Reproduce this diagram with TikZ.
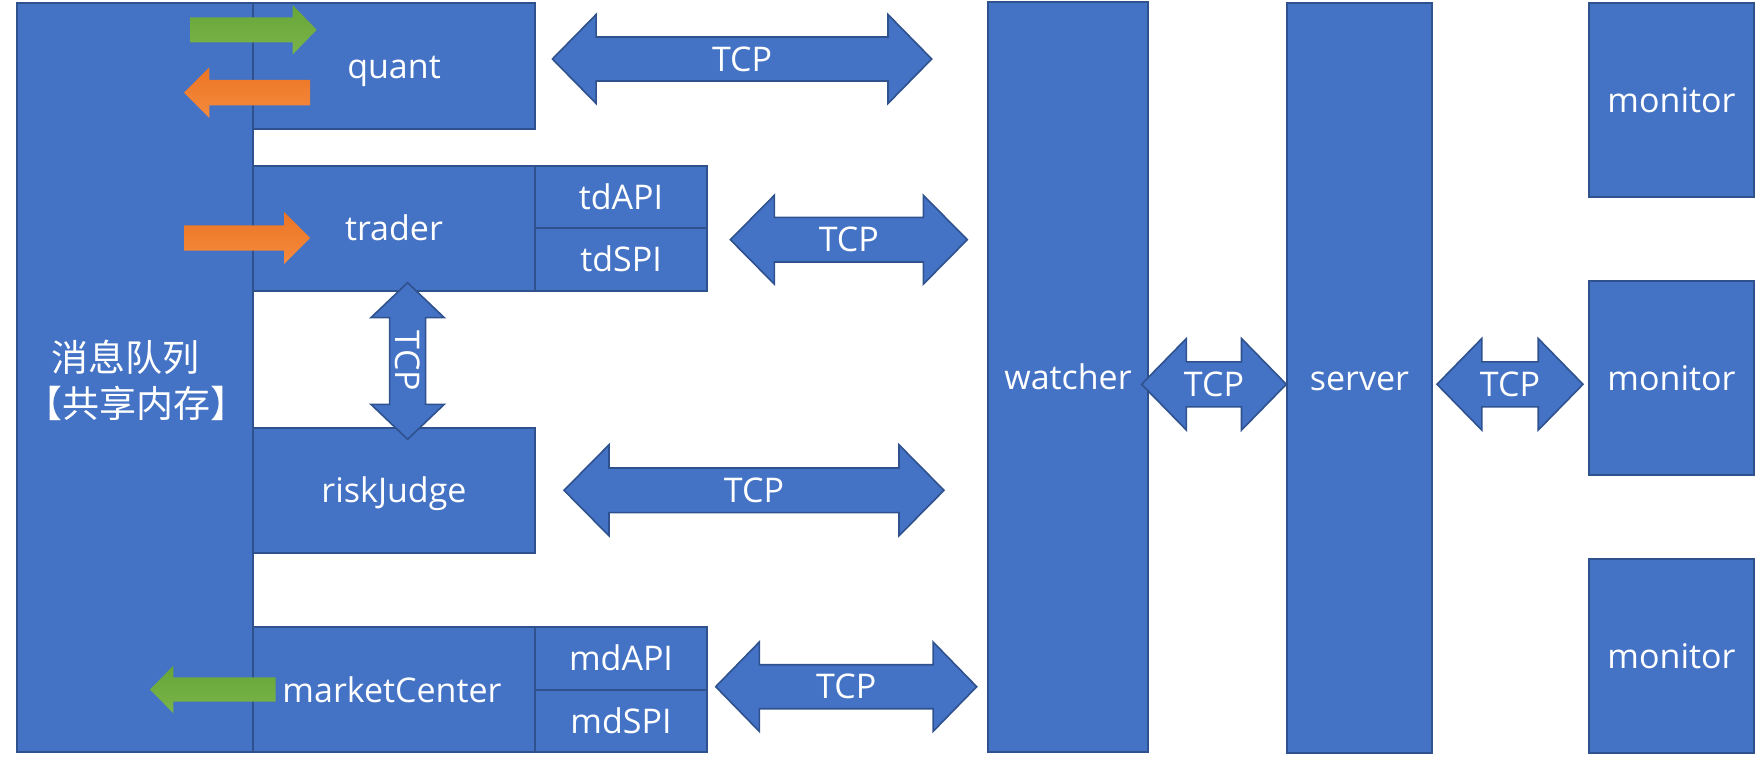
\documentclass[tikz,border=0pt]{standalone}
\usepackage{fontspec}
\setmainfont{Open Sans}
\newfontfamily\cjkfont{Noto Sans CJK SC}
\definecolor{blueA}{HTML}{4472C4}
\definecolor{bordA}{HTML}{2F528F}
\definecolor{grnT}{HTML}{68A639}
\definecolor{grnB}{HTML}{79B449}
\definecolor{orgT}{HTML}{EC7524}
\definecolor{orgB}{HTML}{F58A3E}
\tikzset{
  box/.style={draw=bordA, fill=blueA, line width=2pt, inner sep=0pt,
    text=white, font=\fontsize{34}{40}\selectfont, text height=24.5pt, text depth=0pt},
  lbl/.style={inner sep=0pt, text=white, font=\fontsize{34}{40}\selectfont,
    text height=24.5pt, text depth=0pt},
  cjklbl/.style={inner sep=0pt, text=white, font=\cjkfont\fontsize{37}{42}\selectfont,
    text height=28.1pt, text depth=0pt},
  blockarrow/.style={draw=bordA, fill=blueA, line width=1.6pt, line join=miter},
  greenarrow/.style={top color=grnT, bottom color=grnB, draw=none},
  orangearrow/.style={top color=orgT, bottom color=orgB, draw=none}
}
% horizontal double block arrow: name, x-left tip, x-right tip, y centre, head length, head half, shaft half
\newcommand{\myDblH}[7]{%
  \draw[blockarrow] (#2,#4) -- (#2+#5,#4-#6) -- (#2+#5,#4-#7) -- (#3-#5,#4-#7)
    -- (#3-#5,#4-#6) -- (#3,#4) -- (#3-#5,#4+#6) -- (#3-#5,#4+#7)
    -- (#2+#5,#4+#7) -- (#2+#5,#4+#6) -- cycle;
  \node[lbl] (#1) at ({(#2+#3)/2},#4) {TCP};}
% single block arrow: x tail, x head base, x tip, y centre, head half, shaft half, style
\newcommand{\mySingle}[7]{%
  \path[#7] (#1,#4-#6) -- (#2,#4-#6) -- (#2,#4-#5) -- (#3,#4) -- (#2,#4+#5)
    -- (#2,#4+#6) -- (#1,#4+#6) -- cycle;}
\begin{document}
\begin{tikzpicture}[x=1pt,y=-1pt]
\useasboundingbox (0,0) rectangle (1759,767);

% message queue
\node[box, minimum width=236pt, minimum height=749pt] (main) at (135,377.5) {};
\node[cjklbl] (mq1) at (125,357.5) {消息队列};
\node[cjklbl] (mq2) at (136,403.5) {【共享内存】};

% processes
\node[box, minimum width=282pt, minimum height=126pt] (quant) at (394,66) {quant};
\node[box, minimum width=282pt, minimum height=125pt] (trader) at (394,228.5) {trader};
\node[box, minimum width=172pt, minimum height=62.5pt] (tdapi) at (621,197.25) {tdAPI};
\node[box, minimum width=172pt, minimum height=62.5pt] (tdspi) at (621,259.75) {tdSPI};
\node[box, minimum width=282pt, minimum height=125pt] (risk) at (394,490.5) {riskJudge};
\node[box, minimum width=282pt, minimum height=125pt] (market) at (394,689.5) {};
\node[lbl] (marketlbl) at (392,690) {marketCenter};
\node[box, minimum width=172pt, minimum height=62.5pt] (mdapi) at (621,658.25) {mdAPI};
\node[box, minimum width=172pt, minimum height=62.5pt] (mdspi) at (621,720.75) {mdSPI};

% watcher, server, monitors
\node[box, minimum width=160pt, minimum height=750pt] (watcher) at (1068,377) {watcher};
\node[box, minimum width=145pt, minimum height=750pt] (server) at (1359.5,378) {server};
\node[box, minimum width=165pt, minimum height=194pt] (mon1) at (1671.5,100) {monitor};
\node[box, minimum width=165pt, minimum height=194pt] (mon2) at (1671.5,378) {monitor};
\node[box, minimum width=165pt, minimum height=194pt] (mon3) at (1671.5,656) {monitor};

% small data arrows
\mySingle{190}{292.7}{316.7}{29.8}{24.7}{12.5}{greenarrow}
\mySingle{310}{209.3}{184}{92.7}{25.3}{12.7}{orangearrow}
\mySingle{184}{284}{310}{238}{26}{12.7}{orangearrow}
\mySingle{275.5}{173.4}{150}{689.5}{23.8}{12.2}{greenarrow}

% TCP block arrows
\myDblH{tcpA}{552.4}{931.7}{59}{43.7}{44.5}{22}
\myDblH{tcpB}{730.4}{967.3}{239.7}{44}{44.5}{22.3}
\myDblH{tcpC}{564}{944}{490.3}{45}{45.5}{22.3}
\myDblH{tcpD}{715.7}{976.7}{686.7}{43.6}{44.7}{22}
\myDblH{tcpE}{1141.6}{1286.3}{384.3}{44.8}{45.8}{22.5}
\myDblH{tcpF}{1437}{1583}{384.3}{44.8}{45.8}{22.5}

% vertical TCP arrow between trader and riskJudge
\draw[blockarrow] (407.6,282.7) -- (444.3,317.7) -- (425.6,317.7) -- (425.6,404.3)
  -- (444.3,404.3) -- (407.6,439.3) -- (370.9,404.3) -- (389.6,404.3)
  -- (389.6,317.7) -- (370.9,317.7) -- cycle;
\node[lbl, rotate=-90] (tcpV) at (407.6,361) {TCP};
\end{tikzpicture}
\end{document}
